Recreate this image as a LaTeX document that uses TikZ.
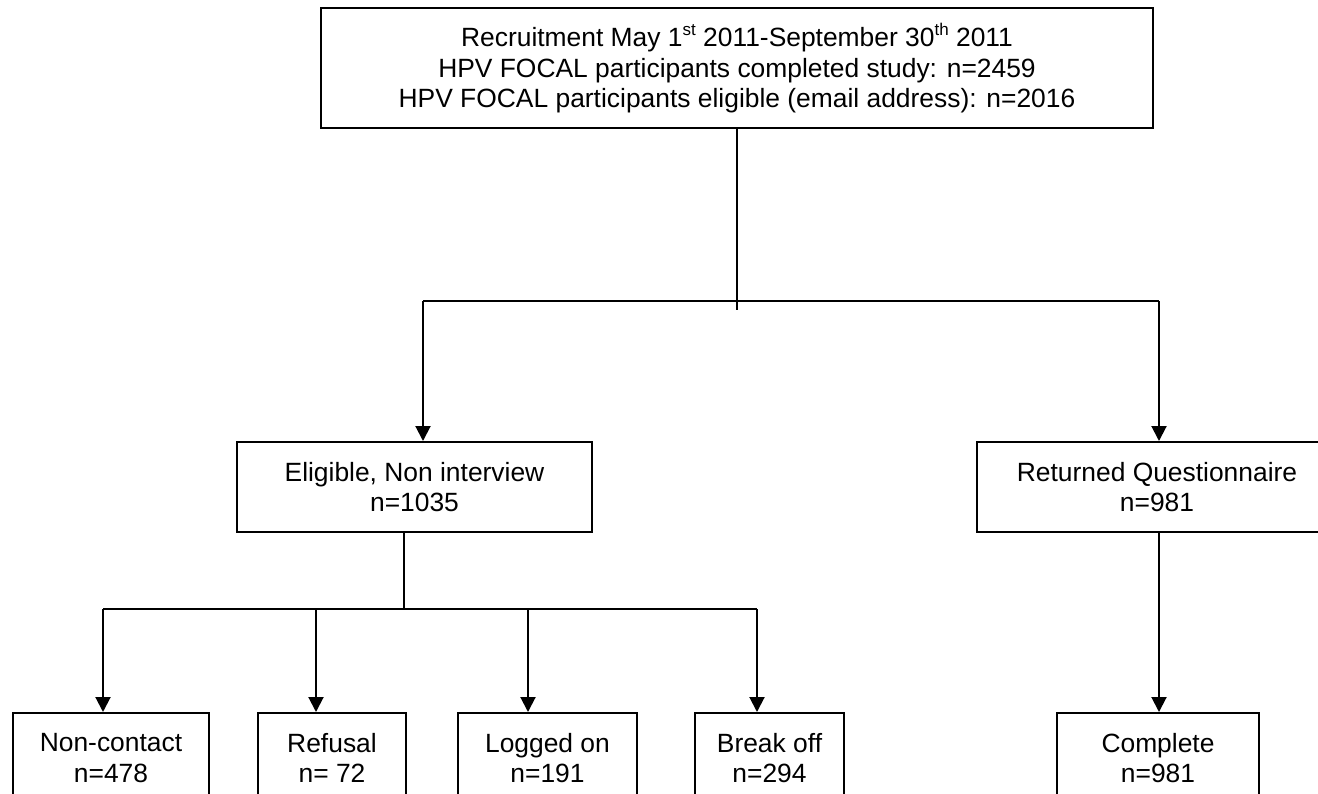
\documentclass[tikz,border=0pt]{standalone}
\usepackage{fontspec}
\setmainfont{Liberation Sans}
\usepackage{tikz}
\usetikzlibrary{arrows.meta, positioning}

\newcommand{\supr}[1]{\raisebox{0.45em}{\fontsize{8.5}{9}\selectfont #1}}

\begin{document}
\begin{tikzpicture}[x=0.5pt, y=-0.5pt, line width=1pt, >={Triangle[length=7.5pt, width=7.5pt]},
        box/.style={rectangle, draw, align=center, inner sep=0pt, minimum height=45pt,
            font=\fontsize{13.2}{15.2}\selectfont}]
            \useasboundingbox (0,0) rectangle (1318,793);
            \clip (0,0) rectangle (1318,793);

            \node[box, minimum width=416pt, minimum height=60pt] (recruit) at (737,68) {
                Recruitment May 1\supr{st} 2011-September 30\supr{th} 2011\\
                HPV FOCAL participants completed study: n=2459\\
                HPV FOCAL participants eligible (email address): n=2016
            };

            \node[box, minimum width=177.5pt] (elig) at (414.5,487) {Eligible, Non interview\\n=1035};
            \node[box, minimum width=180pt] (returned) at (1157,487) {Returned Questionnaire\\n=981};

            % bottom row
            \node[box, minimum width=98pt] (noncontact) at (111,758) {Non-contact\\n=478};
            \node[box, minimum width=74pt, right=23.5pt of noncontact] (refusal) {Refusal\\n= 72};
            \node[box, minimum width=89.5pt, right=25pt of refusal] (logged) {Logged on\\n=191};
            \node[box, minimum width=74.5pt, right=28pt of logged] (breakoff) {Break off\\n=294};
            \node[box, minimum width=101pt] (complete) at (1158,758) {Complete\\n=981};

            \coordinate (stub) at (737,310);
            \coordinate (lsplit) at (423,301);
            \coordinate (rsplit) at (1159,301);
            \draw (recruit) -- (stub);
            \draw (lsplit) -- (rsplit);
            \draw[->] (lsplit) -- (lsplit |- elig.north);
            \draw[->] (rsplit) -- (rsplit |- returned.north);
            \draw[->] (returned.south -| rsplit) -- (rsplit |- complete.north);

            \coordinate (fork) at (404,609);
            \coordinate (lfork) at (103,609);
            \coordinate (rfork) at (757,609);
            \draw (fork |- elig.south) -- (fork);
            \draw (lfork) -- (rfork);
            \foreach \n/\x in {noncontact/103, refusal/316, logged/528, breakoff/757} {
                \path (\x,609) coordinate (drop);
                \draw[->] (drop) -- (drop |- \n.north);
            }
        \end{tikzpicture}
\end{document}
